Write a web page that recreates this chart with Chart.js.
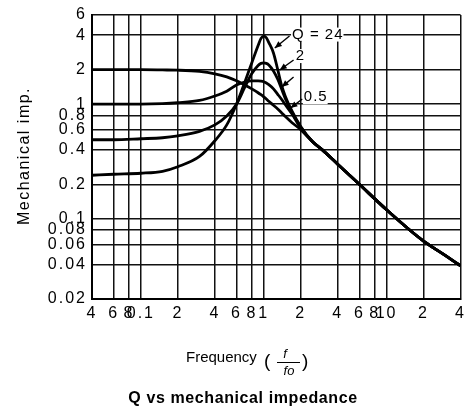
<!DOCTYPE html>
<html>
<head>
<meta charset="utf-8">
<script src="https://cdn.jsdelivr.net/npm/chart.js@4.4.0/dist/chart.umd.min.js"></script>
<style>
  html, body { margin: 0; padding: 0; background: #fff; }
  #wrap { width: 470px; height: 416px; }
</style>
</head>
<body>
<div id="wrap"><canvas id="chart" width="470" height="416"></canvas></div>
<script>
// frequency f/fo (shared by all curves)
const freqs = [0.04, 0.06, 0.1, 0.15, 0.2, 0.3, 0.4, 0.5, 0.6, 0.7, 0.8, 0.9, 0.95, 1.0, 1.05, 1.1, 1.2, 1.3, 1.4, 1.5, 1.7, 2, 2.5, 3, 4, 6, 10, 15, 20, 30, 40];

// mechanical impedance
const impQ05 = [2.0, 2.0, 2.0, 1.99, 1.98, 1.93, 1.84, 1.73, 1.6, 1.47, 1.36, 1.26, 1.21, 1.16, 1.11, 1.06, 0.98, 0.91, 0.84, 0.78, 0.69, 0.6, 0.47, 0.4, 0.3, 0.2, 0.12, 0.082, 0.064, 0.048, 0.039];
const impQ1  = [1.0, 1.0, 1.0, 1.01, 1.03, 1.08, 1.18, 1.3, 1.47, 1.56, 1.6, 1.6, 1.59, 1.57, 1.53, 1.48, 1.36, 1.22, 1.1, 0.99, 0.82, 0.62, 0.47, 0.4, 0.3, 0.2, 0.12, 0.082, 0.064, 0.048, 0.039];
const impQ2  = [0.49, 0.49, 0.5, 0.51, 0.53, 0.58, 0.66, 0.79, 1.0, 1.4, 1.85, 2.18, 2.27, 2.29, 2.27, 2.2, 1.95, 1.65, 1.35, 1.12, 0.85, 0.63, 0.47, 0.4, 0.3, 0.2, 0.12, 0.082, 0.064, 0.048, 0.039];
const impQ24 = [0.24, 0.245, 0.25, 0.26, 0.285, 0.35, 0.48, 0.66, 1.0, 1.55, 2.3, 3.25, 3.75, 3.93, 3.8, 3.45, 2.8, 2.0, 1.45, 1.17, 0.87, 0.64, 0.47, 0.4, 0.3, 0.2, 0.12, 0.082, 0.064, 0.048, 0.039];

// axis ticks
const xTicks = [0.04, 0.06, 0.08, 0.1, 0.2, 0.4, 0.6, 0.8, 1, 2, 4, 6, 8, 10, 20, 40];
const xLabels = ['4', '6', '8', '0.1', '2', '4', '6', '8', '1', '2', '4', '6', '8', '10', '2', '4'];
const yTicks = [0.02, 0.04, 0.06, 0.08, 0.1, 0.2, 0.4, 0.6, 0.8, 1, 2, 4, 6];
const yLabels = ['0.02', '0.04', '0.06', '0.08', '0.1', '0.2', '0.4', '0.6', '0.8', '1', '2', '4', '6'];

// curve labels and their pointer lines, in data units
const curveLabels = [
  { text: 'Q = 24', f: 1.7, v: 4.05 },
  { text: '2', f: 1.82, v: 2.63 },
  { text: '0.5', f: 2.12, v: 1.15 }
];
const pointers = [
  { from: [1.62, 3.93], to: [1.23, 3.09] },
  { from: [1.75, 2.43], to: [1.35, 1.99] },
  { from: [1.75, 1.73], to: [1.4, 1.41] },
  { from: [2.06, 1.11], to: [1.65, 0.925] }
];

const FONT = '"Liberation Sans", Arial, sans-serif';

function series(vals) {
  return {
    data: freqs.map((f, i) => ({ x: f, y: vals[i] })),
    showLine: true,
    borderColor: '#000',
    borderWidth: 2.8,
    pointRadius: 0,
    cubicInterpolationMode: 'monotone'
  };
}

const textPlugin = {
  id: 'texts',
  beforeDraw(chart) {
    chart.ctx.letterSpacing = '2px';
  },
  afterDraw(chart) {
    const ctx = chart.ctx;
    const xs = chart.scales.x, ys = chart.scales.y;
    ctx.save();
    ctx.fillStyle = '#000';
    ctx.strokeStyle = '#000';

    // pointer lines with arrow heads
    pointers.forEach(p => {
      const x1 = xs.getPixelForValue(p.from[0]), y1 = ys.getPixelForValue(p.from[1]);
      const x2 = xs.getPixelForValue(p.to[0]), y2 = ys.getPixelForValue(p.to[1]);
      ctx.lineWidth = 1.4;
      ctx.beginPath(); ctx.moveTo(x1, y1); ctx.lineTo(x2, y2); ctx.stroke();
      const a = Math.atan2(y2 - y1, x2 - x1);
      ctx.beginPath();
      ctx.moveTo(x2, y2);
      ctx.lineTo(x2 - 7 * Math.cos(a) + 3 * Math.sin(a), y2 - 7 * Math.sin(a) - 3 * Math.cos(a));
      ctx.lineTo(x2 - 7 * Math.cos(a) - 3 * Math.sin(a), y2 - 7 * Math.sin(a) + 3 * Math.cos(a));
      ctx.closePath(); ctx.fill();
    });

    // curve labels
    ctx.font = '15px ' + FONT;
    ctx.letterSpacing = '1px';
    ctx.textBaseline = 'middle';
    ctx.textAlign = 'left';
    curveLabels.forEach(l => {
      const x = xs.getPixelForValue(l.f), y = ys.getPixelForValue(l.v);
      const w = ctx.measureText(l.text).width;
      ctx.fillStyle = '#fff';
      ctx.fillRect(x - 1, y - 7, w + 1, 14);
      ctx.fillStyle = '#000';
      ctx.fillText(l.text, x, y);
    });

    // y axis title
    ctx.save();
    ctx.translate(25, 156);
    ctx.rotate(-Math.PI / 2);
    ctx.textAlign = 'center';
    ctx.font = '16px ' + FONT;
    ctx.letterSpacing = '1.5px';
    ctx.fillText('Mechanical imp.', 0, 0);
    ctx.restore();

    // x axis title with fraction
    ctx.letterSpacing = '0px';
    ctx.textBaseline = 'alphabetic';
    ctx.textAlign = 'left';
    ctx.font = '15px ' + FONT;
    ctx.fillText('Frequency', 186, 362);
    ctx.font = '19px ' + FONT;
    ctx.fillText('(', 264, 367);
    ctx.fillText(')', 302, 367);
    ctx.font = 'italic 13px ' + FONT;
    ctx.textAlign = 'center';
    ctx.fillText('f', 285, 358);
    ctx.fillText('fo', 289, 375);
    ctx.lineWidth = 1;
    ctx.beginPath(); ctx.moveTo(277, 362.5); ctx.lineTo(300, 362.5); ctx.stroke();

    // chart title
    ctx.font = 'bold 16px ' + FONT;
    ctx.letterSpacing = '0.6px';
    ctx.fillText('Q vs mechanical impedance', 243, 403);
    ctx.restore();
  }
};

new Chart(document.getElementById('chart'), {
  type: 'scatter',
  data: {
    datasets: [series(impQ05), series(impQ1), series(impQ2), series(impQ24)]
  },
  options: {
    responsive: false,
    animation: false,
    layout: { padding: { left: 0, right: 5, top: 15, bottom: 0 } },
    plugins: { legend: { display: false }, tooltip: { enabled: false } },
    scales: {
      x: {
        type: 'logarithmic',
        min: 0.04,
        max: 40,
        afterBuildTicks: axis => { axis.ticks = xTicks.map(v => ({ value: v })); },
        afterFit: axis => { axis.height = 117; },
        ticks: {
          autoSkip: false,
          maxRotation: 0,
          padding: 5,
          color: '#000',
          font: { family: FONT, size: 16 },
          callback: (v, i) => xLabels[i]
        },
        grid: { color: '#111', lineWidth: 1.5, drawTicks: false },
        border: { color: '#000', width: 2 }
      },
      y: {
        type: 'logarithmic',
        min: 0.02,
        max: 6,
        afterBuildTicks: axis => { axis.ticks = yTicks.map(v => ({ value: v })); },
        afterFit: axis => { axis.width = 92; },
        ticks: {
          autoSkip: false,
          padding: 5,
          color: '#000',
          font: { family: FONT, size: 16 },
          callback: (v, i) => yLabels[i]
        },
        grid: { color: '#111', lineWidth: 1.5, drawTicks: false },
        border: { color: '#000', width: 2 }
      }
    }
  },
  plugins: [textPlugin]
});
</script>
</body>
</html>
